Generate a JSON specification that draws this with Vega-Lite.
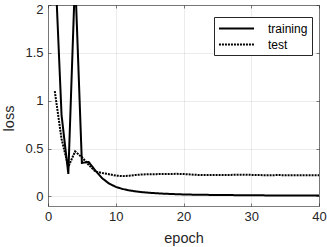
{
  "$schema": "https://vega.github.io/schema/vega-lite/v6.json",
  "width": 271,
  "height": 201,
  "autosize": "none",
  "padding": {"left": 48, "top": 5, "right": 8, "bottom": 41},
  "background": "white",
  "config": {
    "view": {"stroke": null},
    "font": "Liberation Sans",
    "axis": {
      "domainColor": "#262626",
      "domainWidth": 0.6,
      "tickColor": "#262626",
      "tickWidth": 0.6,
      "labelColor": "#262626",
      "titleColor": "#262626",
      "labelFont": "Liberation Sans",
      "titleFont": "Liberation Sans",
      "labelFontSize": 13,
      "titleFontSize": 14.5,
      "titleFontWeight": "normal",
      "gridColor": "#262626",
      "gridOpacity": 0.15,
      "gridWidth": 0.6
    },
    "legend": {
      "labelFont": "Liberation Sans",
      "labelFontSize": 12,
      "labelColor": "#000000"
    }
  },
  "data": {
    "values": [
      {"epoch": 1, "series": "training", "loss": 2.5},
      {"epoch": 2, "series": "training", "loss": 0.85},
      {"epoch": 3, "series": "training", "loss": 0.235},
      {"epoch": 4, "series": "training", "loss": 2.3},
      {"epoch": 5, "series": "training", "loss": 0.35},
      {"epoch": 6, "series": "training", "loss": 0.36},
      {"epoch": 7, "series": "training", "loss": 0.27},
      {"epoch": 8, "series": "training", "loss": 0.19},
      {"epoch": 9, "series": "training", "loss": 0.135},
      {"epoch": 10, "series": "training", "loss": 0.1},
      {"epoch": 11, "series": "training", "loss": 0.078},
      {"epoch": 12, "series": "training", "loss": 0.063},
      {"epoch": 13, "series": "training", "loss": 0.052},
      {"epoch": 14, "series": "training", "loss": 0.044},
      {"epoch": 15, "series": "training", "loss": 0.038},
      {"epoch": 16, "series": "training", "loss": 0.033},
      {"epoch": 17, "series": "training", "loss": 0.029},
      {"epoch": 18, "series": "training", "loss": 0.026},
      {"epoch": 19, "series": "training", "loss": 0.023},
      {"epoch": 20, "series": "training", "loss": 0.021},
      {"epoch": 21, "series": "training", "loss": 0.019},
      {"epoch": 22, "series": "training", "loss": 0.018},
      {"epoch": 23, "series": "training", "loss": 0.017},
      {"epoch": 24, "series": "training", "loss": 0.016},
      {"epoch": 25, "series": "training", "loss": 0.015},
      {"epoch": 26, "series": "training", "loss": 0.014},
      {"epoch": 27, "series": "training", "loss": 0.014},
      {"epoch": 28, "series": "training", "loss": 0.013},
      {"epoch": 29, "series": "training", "loss": 0.013},
      {"epoch": 30, "series": "training", "loss": 0.012},
      {"epoch": 31, "series": "training", "loss": 0.012},
      {"epoch": 32, "series": "training", "loss": 0.011},
      {"epoch": 33, "series": "training", "loss": 0.011},
      {"epoch": 34, "series": "training", "loss": 0.011},
      {"epoch": 35, "series": "training", "loss": 0.01},
      {"epoch": 36, "series": "training", "loss": 0.01},
      {"epoch": 37, "series": "training", "loss": 0.01},
      {"epoch": 38, "series": "training", "loss": 0.009},
      {"epoch": 39, "series": "training", "loss": 0.009},
      {"epoch": 40, "series": "training", "loss": 0.009},
      {"epoch": 1, "series": "test", "loss": 1.1},
      {"epoch": 2, "series": "test", "loss": 0.6},
      {"epoch": 3, "series": "test", "loss": 0.31},
      {"epoch": 4, "series": "test", "loss": 0.47},
      {"epoch": 5, "series": "test", "loss": 0.41},
      {"epoch": 6, "series": "test", "loss": 0.33},
      {"epoch": 7, "series": "test", "loss": 0.26},
      {"epoch": 8, "series": "test", "loss": 0.245},
      {"epoch": 9, "series": "test", "loss": 0.232},
      {"epoch": 10, "series": "test", "loss": 0.218},
      {"epoch": 11, "series": "test", "loss": 0.212},
      {"epoch": 12, "series": "test", "loss": 0.216},
      {"epoch": 13, "series": "test", "loss": 0.225},
      {"epoch": 14, "series": "test", "loss": 0.23},
      {"epoch": 15, "series": "test", "loss": 0.232},
      {"epoch": 16, "series": "test", "loss": 0.233},
      {"epoch": 17, "series": "test", "loss": 0.234},
      {"epoch": 18, "series": "test", "loss": 0.235},
      {"epoch": 19, "series": "test", "loss": 0.236},
      {"epoch": 20, "series": "test", "loss": 0.234},
      {"epoch": 21, "series": "test", "loss": 0.23},
      {"epoch": 22, "series": "test", "loss": 0.225},
      {"epoch": 23, "series": "test", "loss": 0.223},
      {"epoch": 24, "series": "test", "loss": 0.224},
      {"epoch": 25, "series": "test", "loss": 0.225},
      {"epoch": 26, "series": "test", "loss": 0.224},
      {"epoch": 27, "series": "test", "loss": 0.225},
      {"epoch": 28, "series": "test", "loss": 0.226},
      {"epoch": 29, "series": "test", "loss": 0.227},
      {"epoch": 30, "series": "test", "loss": 0.225},
      {"epoch": 31, "series": "test", "loss": 0.223},
      {"epoch": 32, "series": "test", "loss": 0.222},
      {"epoch": 33, "series": "test", "loss": 0.222},
      {"epoch": 34, "series": "test", "loss": 0.223},
      {"epoch": 35, "series": "test", "loss": 0.222},
      {"epoch": 36, "series": "test", "loss": 0.221},
      {"epoch": 37, "series": "test", "loss": 0.221},
      {"epoch": 38, "series": "test", "loss": 0.222},
      {"epoch": 39, "series": "test", "loss": 0.221},
      {"epoch": 40, "series": "test", "loss": 0.22}
    ]
  },
  "layer": [
    {
      "transform": [{"filter": "datum.series === 'test'"}],
      "mark": {"type": "line", "clip": true, "color": "#000000", "strokeWidth": 2},
      "encoding": {
        "x": {
          "field": "epoch", "type": "quantitative",
          "scale": {"domain": [0, 40], "nice": false, "zero": false},
          "axis": {"orient": "bottom", "values": [0, 10, 20, 30, 40], "labelFlush": false, "grid": true, "tickSize": -3, "labelPadding": 7, "title": "epoch", "titleY": 36, "titleBaseline": "alphabetic"}
        },
        "y": {
          "field": "loss", "type": "quantitative",
          "scale": {"domain": [-0.1, 2], "nice": false, "zero": false},
          "axis": {"orient": "left", "values": [0, 0.5, 1, 1.5, 2], "format": "~g", "grid": true, "tickSize": -3, "labelPadding": 8, "labelFlush": true, "labelFlushOffset": 2, "title": "loss", "titleX": -35, "titleY": 113, "titleBaseline": "alphabetic"}
        },
        "strokeDash": {
          "field": "series", "type": "nominal",
          "scale": {"domain": ["training", "test"], "range": [[1, 0], [2, 1]]},
          "legend": {
            "orient": "none", "legendX": 166, "legendY": 12, "title": null,
            "symbolType": "M-2.7,0H2.7", "symbolSize": 169, "symbolStrokeWidth": 2, "symbolStrokeColor": "#000000",
            "symbolOffset": 11, "labelOffset": 24, "rowPadding": 2,
            "strokeColor": "#262626", "fillColor": "#ffffff", "padding": 4,
            "labelExpr": "datum.label + '\u00a0\u00a0\u00a0\u00a0'"
          }
        }
      }
    },
    {
      "transform": [{"filter": "datum.series === 'training'"}],
      "mark": {"type": "line", "clip": true, "color": "#000000", "strokeWidth": 2},
      "encoding": {
        "x": {
          "field": "epoch", "type": "quantitative",
          "scale": {"domain": [0, 40], "nice": false, "zero": false},
          "axis": {"orient": "top", "values": [0, 10, 20, 30, 40], "labels": false, "grid": false, "tickSize": -3, "title": null}
        },
        "y": {
          "field": "loss", "type": "quantitative",
          "scale": {"domain": [-0.1, 2], "nice": false, "zero": false},
          "axis": {"orient": "right", "values": [0, 0.5, 1, 1.5, 2], "labels": false, "grid": false, "tickSize": -3, "title": null}
        },
        "strokeDash": {"field": "series", "type": "nominal"}
      }
    }
  ],
  "resolve": {"scale": {"x": "independent", "y": "independent"}}
}
